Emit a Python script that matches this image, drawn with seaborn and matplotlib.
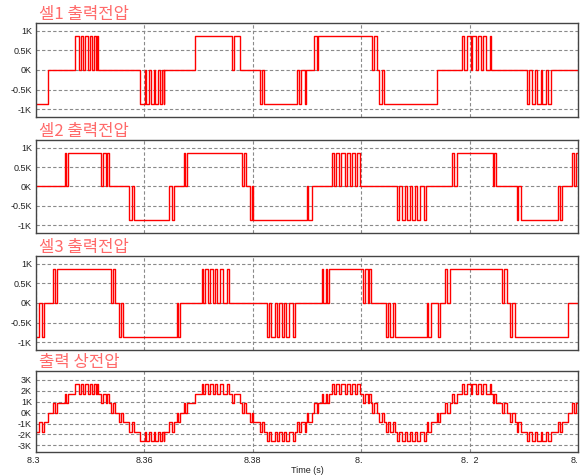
import numpy as np
import pandas as pd
import matplotlib
matplotlib.use('Agg')
import matplotlib.pyplot as plt
import seaborn as sns

# time axis (s)
t_start, t_end = 8.34, 8.44
xticks = [8.34, 8.36, 8.38, 8.40, 8.42, 8.44]
# the reference lost its "4" glyphs, the labels keep the same look
xtick_labels = ['8.3\u2007', '8.36', '8.38', '8.\u2007', '8.\u20072', '8.']

titles = ['셀1 출력전압', '셀2 출력전압', '셀3 출력전압', '출력 상전압']

cell_yticks = [-1000, -500, 0, 500, 1000]
cell_ylabels = ['-1K', '-0.5K', '0K', '0.5K', '1K']
out_yticks = [-3000, -2000, -1000, 0, 1000, 2000, 3000]
out_ylabels = ['-3K', '-2K', '-1K', '0K', '1K', '2K', '3K']

# switching instants (s) and the level (V) the cell goes to at each instant
cell1_t = [8.34000, 8.34220,
           8.34725, 8.34793, 8.34825, 8.34873, 8.34904, 8.34965, 8.34991, 8.35039, 8.35070, 8.35101, 8.35131, 8.35144,
           8.35924, 8.36005, 8.36035, 8.36085, 8.36116, 8.36172, 8.36201, 8.36256, 8.36293, 8.36330, 8.36356, 8.36367,
           8.36925, 8.37610, 8.37660, 8.37770,
           8.38135, 8.38170, 8.38212,
           8.38810, 8.38847, 8.38889, 8.38957, 8.38982,
           8.39135, 8.39179, 8.39208,
           8.40194, 8.40236, 8.40286,
           8.40334, 8.40378, 8.40426,
           8.41404,
           8.41866, 8.41903, 8.41946, 8.42020, 8.42050, 8.42112, 8.42149, 8.42204, 8.42241, 8.42296, 8.42376, 8.42389,
           8.43053, 8.43102, 8.43145, 8.43213, 8.43250, 8.43311, 8.43342, 8.43410, 8.43453, 8.43496]
cell1_v = [-870, 0,
           870, 0, 870, 0, 870, 0, 870, 0, 870, 0, 870, 0,
           -870, 0, -870, 0, -870, 0, -870, 0, -870, 0, -870, 0,
           870, 0, 870, 0,
           -870, 0, -870,
           0, -870, 0, -870, 0,
           870, 0, 870,
           0, 870, 0,
           -870, 0, -870,
           0,
           870, 0, 870, 0, 870, 0, 870, 0, 870, 0, 870, 0,
           -870, 0, -870, 0, -870, 0, -870, 0, -870, 0]

cell2_t = [8.34000,
           8.34535, 8.34560, 8.34597,
           8.35199, 8.35230, 8.35292, 8.35316, 8.35347,
           8.35722, 8.35765, 8.35808,
           8.36460, 8.36503, 8.36546,
           8.36731, 8.36755, 8.36780,
           8.37795, 8.37838, 8.37875,
           8.37948, 8.37979, 8.38009,
           8.38995, 8.39025, 8.39085,
           8.39455, 8.39492, 8.39535, 8.39596, 8.39633, 8.39701, 8.39732, 8.39793, 8.39830, 8.39886, 8.39929, 8.39978,
           8.40667, 8.40704, 8.40747, 8.40808, 8.40839, 8.40900, 8.40937, 8.40993, 8.41023, 8.41085, 8.41159, 8.41196,
           8.41669, 8.41712, 8.41761,
           8.42426, 8.42450, 8.42487,
           8.42868, 8.42899, 8.42942,
           8.43637, 8.43660, 8.43699,
           8.43883, 8.43926, 8.43963]
cell2_v = [0,
           870, 0, 870,
           0, 870, 0, 870, 0,
           -870, 0, -870,
           0, -870, 0,
           870, 0, 870,
           0, 870, 0,
           -870, 0, -870,
           0, -870, 0,
           870, 0, 870, 0, 870, 0, 870, 0, 870, 0, 870, 0,
           -870, 0, -870, 0, -870, 0, -870, 0, -870, 0, -870, 0,
           870, 0, 870,
           0, 870, 0,
           -870, 0, -870,
           0, -870, 0,
           870, 0, 870]

cell3_t = [8.34000,
           8.34061, 8.34105, 8.34148,
           8.34320, 8.34351, 8.34381,
           8.35384, 8.35414, 8.35458,
           8.35538, 8.35574, 8.35611,
           8.36595, 8.36626, 8.36657,
           8.37057, 8.37087, 8.37124, 8.37173, 8.37210, 8.37260, 8.37303, 8.37346, 8.37395, 8.37444, 8.37518, 8.37561,
           8.38256, 8.38305, 8.38342, 8.38403, 8.38440, 8.38489, 8.38532, 8.38582, 8.38613, 8.38674, 8.38736, 8.38779,
           8.39271, 8.39301, 8.39350, 8.39375, 8.39412,
           8.40027, 8.40070, 8.40132, 8.40150, 8.40175,
           8.40458, 8.40501, 8.40532, 8.40580, 8.40624,
           8.41208, 8.41238, 8.41281, 8.41422, 8.41454,
           8.41546, 8.41577, 8.41638,
           8.42604, 8.42635, 8.42684,
           8.42745, 8.42782, 8.42838,
           8.43822]
cell3_v = [-870,
           0, -870, 0,
           870, 0, 870,
           0, 870, 0,
           -870, 0, -870,
           0, -870, 0,
           870, 0, 870, 0, 870, 0, 870, 0, 870, 0, 870, 0,
           -870, 0, -870, 0, -870, 0, -870, 0, -870, 0, -870, 0,
           870, 0, 870, 0, 870,
           0, 870, 0, 870, 0,
           -870, 0, -870, 0, -870,
           0, -870, 0, -870, 0,
           870, 0, 870,
           0, 870, 0,
           -870, 0, -870,
           0]

cells = [(cell1_t, cell1_v), (cell2_t, cell2_v), (cell3_t, cell3_v)]


def level_at(t_sw, v_sw, t):
    idx = np.searchsorted(np.array(t_sw), t, side='right') - 1
    return np.array(v_sw)[np.clip(idx, 0, None)]


# phase voltage of the cascaded bridge = sum of the three cell outputs
t_all = np.unique(np.concatenate([np.array(c[0]) for c in cells] + [[t_end]]))
v_out = sum(level_at(ct, cv, t_all) for ct, cv in cells)

frames = []
for ct, cv in cells:
    frames.append(pd.DataFrame({'t': list(ct) + [t_end], 'v': list(cv) + [cv[-1]]}))
frames.append(pd.DataFrame({'t': t_all, 'v': v_out}))

sns.set_style('white')
plt.rcParams['font.family'] = ['Liberation Sans', 'DejaVu Sans']

fig = plt.figure(figsize=(5.82, 4.75), dpi=100)
rects = [[0.0619, 0.7537, 0.9313, 0.1979],
         [0.0619, 0.5095, 0.9313, 0.1958],
         [0.0619, 0.2632, 0.9313, 0.1979],
         [0.0619, 0.0484, 0.9313, 0.1705]]

for i, (rect, df) in enumerate(zip(rects, frames)):
    ax = fig.add_axes(rect)
    ax.set_axisbelow(True)
    sns.lineplot(data=df, x='t', y='v', ax=ax, drawstyle='steps-post',
                 estimator=None, sort=False, color='#ff0000', lw=1.0)
    ax.set_xlim(t_start, t_end)
    if i < 3:
        ax.set_ylim(-1200, 1200)
        ax.set_yticks(cell_yticks)
        ax.set_yticklabels(cell_ylabels)
    else:
        ax.set_ylim(-3600, 3800)
        ax.set_yticks(out_yticks)
        ax.set_yticklabels(out_ylabels)
    ax.set_xticks(xticks)
    if i == 3:
        ax.set_xticklabels(xtick_labels)
        # last label sits at the right edge, keep it inside the figure
        ax.get_xticklabels()[-1].set_ha('right')
    else:
        ax.set_xticklabels([])
    ax.set_xlabel('')
    ax.set_ylabel('')
    ax.grid(True, color='#8a8a8a', ls=(0, (3, 2)), lw=0.8)
    ax.tick_params(length=0, labelsize=6.5, pad=3, colors='#222222')
    for sp in ax.spines.values():
        sp.set_color('#444444')
        sp.set_linewidth(1.0)
    ax.text(0.005, 1.0, titles[i], transform=ax.transAxes, family='Noto Sans CJK KR',
            fontsize=12, fontweight='light', color='#ff6a6a', ha='left', va='bottom')

fig.text(0.5275, 0.0105, 'Time (s)', ha='center', va='center', fontsize=6.5, color='#222222')

fig.savefig('out.png', dpi=100)
